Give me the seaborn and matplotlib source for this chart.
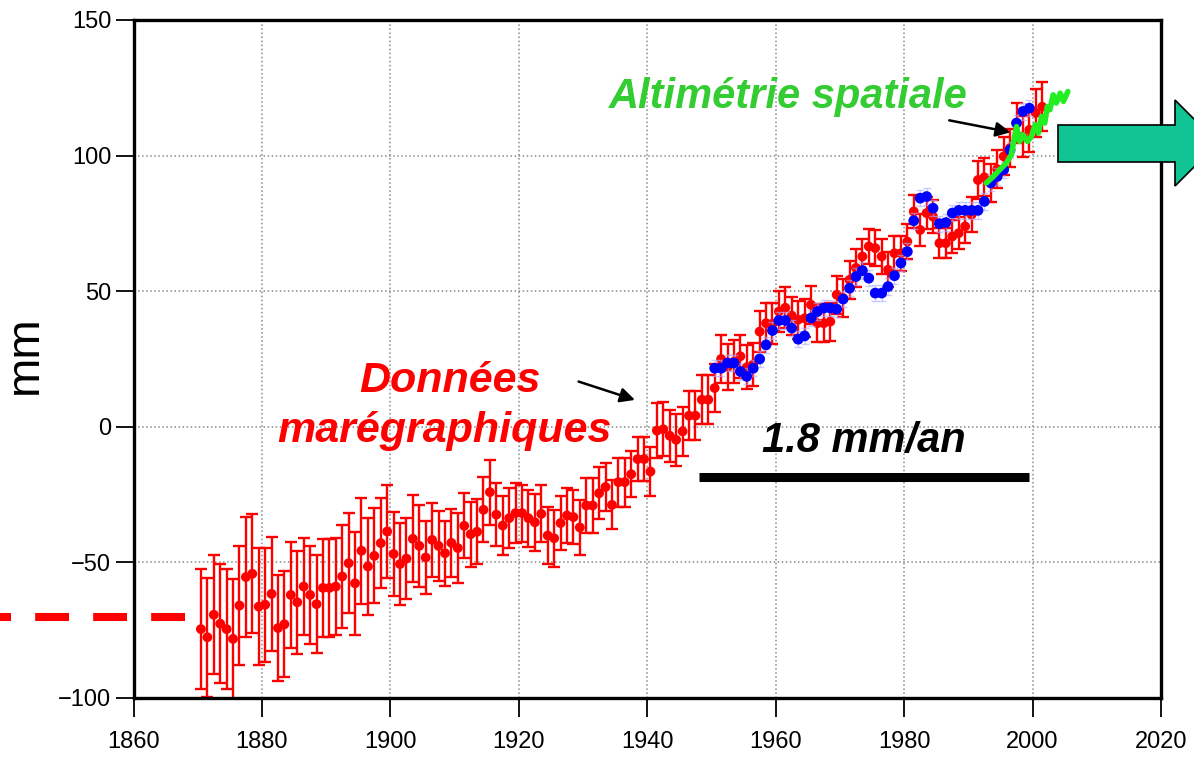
import numpy as np
import pandas as pd
import seaborn as sns
import matplotlib.pyplot as plt
from matplotlib.patches import Polygon

# Tide gauge (red) annual means with error bars, 1870-2001
red_years = np.arange(1870, 2002)
red_mm = [
    -74.6, -77.6, -69.3, -72.6, -74.6, -78.2, -65.9, -55.4, -54.2, -66.3,
    -65.6, -61.6, -74.2, -72.8, -62.0, -64.7, -58.9, -62.0, -65.4, -59.4,
    -59.4, -58.9, -55.2, -50.3, -57.7, -45.7, -51.5, -47.6, -42.9, -38.6,
    -46.9, -50.6, -48.6, -41.3, -43.9, -48.2, -41.7, -43.9, -46.6, -42.8,
    -44.7, -36.5, -39.6, -38.7, -30.6, -24.1, -32.4, -36.4, -33.7, -31.8,
    -31.8, -33.7, -35.2, -32.1, -40.1, -41.1, -35.5, -32.7, -33.3, -37.1,
    -29.0, -29.0, -24.5, -22.2, -28.8, -20.4, -20.4, -17.5, -11.9, -11.9,
    -16.5, -1.4, -0.9, -3.3, -4.8, -1.7, 4.1, 4.1, 10.0, 10.0,
    14.3, 25.0, 22.0, 24.0, 26.0, 22.0, 23.0, 35.1, 38.2, 38.0,
    42.5, 43.9, 41.0, 39.5, 40.0, 45.0, 38.2, 38.2, 38.8, 48.7,
    47.5, 54.2, 58.6, 62.8, 66.5, 65.9, 62.8, 57.9, 64.0, 64.0,
    68.3, 79.4, 72.6, 78.8, 77.5, 67.7, 67.7, 70.2, 71.4, 73.9,
    78.2, 91.0, 92.0, 90.0, 95.0, 99.7, 102.8, 112.0, 107.0, 109.5,
    115.7, 118.0,
]
red_err = [
    22, 22, 22, 22, 22, 22, 22, 22, 22, 21.5,
    21, 21, 19.5, 19.5, 19.5, 19, 18, 18, 18, 18,
    18, 18, 19, 18.5, 19, 19.5, 18, 17.5, 16.5, 17,
    15.5, 15, 15, 16, 15, 13.5, 13.5, 13, 12, 12.5,
    13, 12, 12, 12, 12, 12, 11.5, 11, 11, 11,
    10.5, 10.5, 10.5, 10.5, 10.5, 10.5, 10, 10, 10, 10,
    10, 10, 9.5, 9, 9, 9, 9, 8.5, 8, 8,
    9, 10, 10, 9.5, 9.5, 9, 9, 9, 9, 9,
    9, 9, 8.5, 8, 8, 8, 8, 7.5, 7.5, 7.5,
    7.5, 7.5, 7, 7, 7, 7, 7, 7, 7, 7,
    7, 7, 7, 6.5, 6.5, 6.5, 6.5, 6.5, 6.5, 6.5,
    6.5, 6, 6, 6, 6, 5.5, 5.5, 6, 6, 6,
    6.5, 7, 7, 7, 7, 7, 7, 7.5, 7.5, 8,
    9, 9,
]

# Reconstruction (blue), 1950-1999
blue_years = np.arange(1950, 2000)
blue_mm = [
    21.6, 21.6, 23.5, 23.5, 20.4, 18.6, 21.6, 25.0, 30.2, 35.5,
    39.2, 39.2, 36.4, 32.3, 33.5, 40.1, 42.5, 43.8, 43.8, 43.4,
    47.1, 51.1, 55.4, 57.6, 54.8, 49.3, 49.3, 51.7, 55.7, 60.4,
    64.6, 76.0, 84.3, 84.9, 80.6, 74.9, 75.3, 78.8, 79.8, 79.8,
    79.8, 79.8, 83.1, 89.9, 92.3, 94.8, 102.1, 112.0, 116.3, 117.5,
]

# Satellite altimetry (green)
green_years = [1992.8, 1993.9, 1994.9, 1995.9, 1996.7, 1997.2, 1997.5, 1998.0,
               1998.5, 1999.2, 1999.8, 2000.4, 2000.9, 2001.4, 2001.9, 2002.3,
               2002.7, 2003.2, 2003.7, 2004.3, 2004.8, 2005.5]
green_mm = [89.9, 92.3, 94.8, 97.2, 100.3, 107.0, 110.7, 105.2,
            107.7, 105.2, 107.0, 111.4, 108.3, 114.4, 112.0, 118.1,
            116.9, 122.4, 119.4, 123.0, 120.0, 123.6]

trend_start, trend_end, trend_level = 1948.1, 1999.5, -18.4
old_level = -70.1

sns.set_style("ticks")
plt.rcParams['font.family'] = ['Liberation Sans', 'DejaVu Sans']
plt.rcParams['text.color'] = 'black'
plt.rcParams['xtick.color'] = 'black'
plt.rcParams['ytick.color'] = 'black'

W, H = 1194, 758
fig = plt.figure(figsize=(W / 100, H / 100), dpi=100)
ax = fig.add_axes([133.5 / W, 1 - 698 / H, (1161 - 133.5) / W, (698 - 20) / H])

df_red = pd.DataFrame({'year': red_years + 0.5, 'mm': red_mm, 'err': red_err})
df_blue = pd.DataFrame({'year': blue_years + 0.5, 'mm': blue_mm})

ax.errorbar(df_red['year'], df_red['mm'], yerr=df_red['err'], fmt='none',
            ecolor='red', elinewidth=1.7, capsize=4, capthick=1.7, zorder=2)
sns.scatterplot(data=df_red, x='year', y='mm', color='red', s=50,
                edgecolor='none', ax=ax, zorder=3)
ax.errorbar(df_blue['year'], df_blue['mm'], yerr=3, fmt='none',
            ecolor='#aaaaff', elinewidth=1, capsize=3, alpha=0.6, zorder=3)
sns.scatterplot(data=df_blue, x='year', y='mm', color='blue', s=60,
                edgecolor='none', ax=ax, zorder=4)
sns.lineplot(x=green_years, y=green_mm, color='#22ee22', linewidth=4,
             ax=ax, zorder=5)

ax.set_xlim(1860, 2020)
ax.set_ylim(-100, 150)
ax.set_xticks(range(1860, 2021, 20))
ax.set_yticks(range(-100, 151, 50))
ax.set_xlabel('')
ax.set_ylabel('')
ax.grid(True, linestyle=':', color='#888888', linewidth=1.1)
for sp in ax.spines.values():
    sp.set_linewidth(2.4)
    sp.set_color('black')
ax.tick_params(axis='y', length=13, width=1.3, labelsize=17, pad=3, colors='black')
ax.tick_params(axis='x', length=14, width=1.3, labelsize=17, pad=10, colors='black')

fig.text(25 / W, 1 - 355 / H, 'mm', rotation=90, fontsize=34,
         ha='center', va='center', color='black')

# trend bar and label
ax.plot([trend_start, trend_end], [trend_level, trend_level], color='black',
        linewidth=6.5, solid_capstyle='butt', zorder=6)
ax.text(1973.7, -9.2, '1.8 mm/an', fontsize=30, fontweight='bold',
        fontstyle='italic', ha='center', va='baseline', color='black', zorder=7)

# old level dashed line (goes outside the axes), drawn from its right end
ax.plot([1868.0, 1835.7], [old_level, old_level], color='red', linewidth=5.8,
        dashes=(4.2, 3), clip_on=False, zorder=6)

# labels and arrows
ax.text(1909.2, 12.9, 'Données', color='red', fontsize=31, fontweight='bold',
        fontstyle='italic', ha='center', va='baseline', zorder=7)
ax.text(1908.4, -5.5, 'marégraphiques', color='red', fontsize=31,
        fontweight='bold', fontstyle='italic', ha='center', va='baseline', zorder=7)
ax.annotate('', xy=(1938.5, 9.6), xytext=(1928.9, 17.0),
            arrowprops=dict(arrowstyle='-|>', color='black', lw=1.8,
                            mutation_scale=22))

ax.text(1961.9, 117.6, 'Altimétrie spatiale', color='#33cc33', fontsize=30,
        fontweight='bold', fontstyle='italic', ha='center', va='baseline', zorder=7)
ax.annotate('', xy=(1997.0, 108.4), xytext=(1986.6, 113.2),
            arrowprops=dict(arrowstyle='-|>', color='black', lw=1.8,
                            mutation_scale=22))

# big teal arrow on the right
arrow_px = [(1058, 125), (1175, 125), (1175, 100), (1218, 143),
            (1175, 186), (1175, 162), (1058, 162)]
arrow = Polygon([(x / W, 1 - y / H) for x, y in arrow_px], closed=True,
                facecolor='#10c493', edgecolor='black', linewidth=1.2,
                transform=fig.transFigure, zorder=10)
fig.add_artist(arrow)

fig.savefig('out.png', dpi=100)
